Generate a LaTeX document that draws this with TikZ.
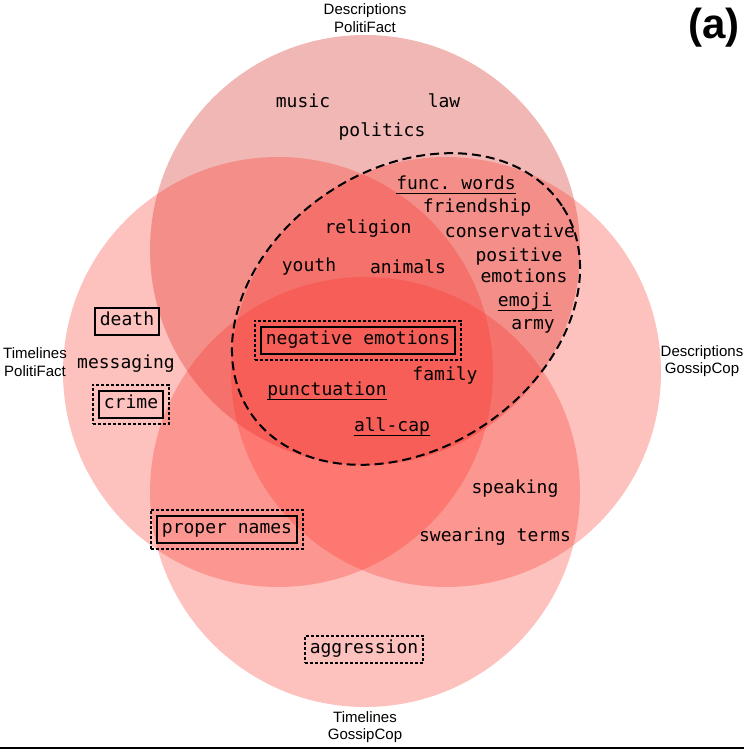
\documentclass[tikz,border=0pt]{standalone}
\usepackage{fontspec}
\setmainfont{Liberation Sans}
\setmonofont{DejaVu Sans Mono}
\usetikzlibrary{fit}
\definecolor{toppink}{RGB}{205,15,5}
\definecolor{basepink}{RGB}{250,50,40}
\newcommand{\wordfont}{\ttfamily\fontsize{18}{20}\selectfont}
\newcommand{\setfont}{\fontsize{15}{17.5}\selectfont}

\begin{document}
\begin{tikzpicture}[x=1pt,y=-1pt,
  circ/.style={fill=basepink,fill opacity=0.3},
  term/.style={font=\wordfont,inner sep=0pt,text height=13pt,text depth=4pt},
  solidbox/.style={term,draw,line width=2pt,inner xsep=5pt,inner ysep=5pt},
  dotbox/.style={draw,line width=2pt,dash pattern=on 3pt off 2pt,inner sep=5pt},
  uline/.style={line width=1.5pt},
  setname/.style={font=\setfont,align=center,inner sep=0pt}]
\useasboundingbox (0,0) rectangle (744,752);

\fill[circ,fill=toppink] (365,250) circle (215pt);
\fill[circ] (278,372) circle (215pt);
\fill[circ] (446,372) circle (215pt);
\fill[circ] (365,492) circle (215pt);
\draw[line width=2pt,dash pattern=on 9pt off 5pt,rotate around={33.5:(406,309)}]
  (406,309) ellipse [x radius=187pt,y radius=140pt];

\node[setname] (dpf) at (365,18) {Descriptions\\PolitiFact};
\node[setname] (tpf) at (35,362) {Timelines\\PolitiFact};
\node[setname] (dgc) at (702,361) {Descriptions\\GossipCop};
\node[setname] (tgc) at (365,727) {Timelines\\GossipCop};
\node[font=\bfseries\fontsize{42}{42}\selectfont,inner sep=0pt] (lbl) at (714,28) {(a)};

\node[term] (music) at (303,103) {music};
\node[term] (law) at (444,103) {law};
\node[term] (politics) at (382,132) {politics};
\node[term] (func) at (456,185) {func. words};
\node[term] (friend) at (477,208) {friendship};
\node[term] (religion) at (368,229) {religion};
\node[term] (conserv) at (510,233) {conservative};
\node[term] (positive) at (519,257) {positive};
\node[term] (emotions) at (524,278) {emotions};
\node[term] (emoji) at (525,302) {emoji};
\node[term] (army) at (533,325) {army};
\node[term] (youth) at (309,267) {youth};
\node[term] (animals) at (408,269) {animals};
\node[term] (family) at (445,376) {family};
\node[term] (punct) at (327,391) {punctuation};
\node[term] (allcap) at (392,427) {all-cap};
\node[term] (messaging) at (126,364) {messaging};
\node[term] (speaking) at (515,489) {speaking};
\node[term] (swearing) at (495,537) {swearing terms};

\node[solidbox] (neg) at (358,340) {negative emotions};
\node[dotbox,fit=(neg)] (negout) {};
\node[solidbox] (death) at (127,321) {death};
\node[solidbox] (crime) at (131,404) {crime};
\node[dotbox,fit=(crime)] (crimeout) {};
\node[solidbox] (proper) at (227,529) {proper names};
\node[dotbox,fit=(proper)] (properout) {};
\node[term,dotbox,inner xsep=5pt,inner ysep=5pt] (aggr) at (364,649) {aggression};

\draw[uline] (func.south west) -- (func.south east);
\draw[uline] (emoji.south west) -- (emoji.south east);
\draw[uline] (punct.south west) -- (punct.south east);
\draw[uline] (allcap.south west) -- (allcap.south east);

\draw[line width=1.5pt] (0,748) -- (744,748);
\end{tikzpicture}
\end{document}
